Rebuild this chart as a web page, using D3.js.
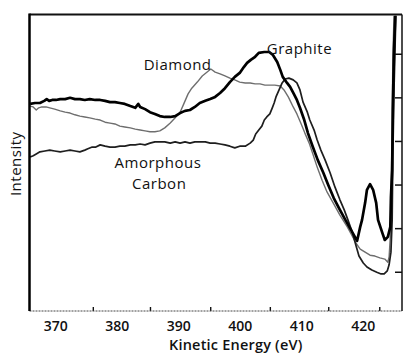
<!DOCTYPE html>
<html>
<head>
<meta charset="utf-8">
<script src="https://cdn.jsdelivr.net/npm/d3@7"></script>
<style>
  html, body { margin: 0; padding: 0; background: #fff; }
  svg { display: block; }
  text { font-family: "Open Sans", "Noto Sans", sans-serif; fill: #111; }
</style>
</head>
<body>
<svg id="chart" width="404" height="354"></svg>
<script>
// Carbon KVV Auger spectra: [kinetic energy (eV), intensity (a.u.)]
const graphite = [
  [365.9,4.85],[366.7,4.87],[367.5,4.87],[368.2,4.92],[368.6,4.96],[369.0,4.92],[369.5,4.94],
  [370.1,4.94],[370.8,4.96],[371.6,4.96],[372.4,4.99],[373.2,4.96],[374.0,4.96],[374.8,4.94],
  [375.6,4.96],[376.5,4.94],[377.3,4.94],[378.1,4.92],[378.9,4.89],[379.7,4.89],[380.5,4.87],
  [381.3,4.85],[382.2,4.80],[383.0,4.76],[383.5,4.85],[383.8,4.78],[384.6,4.73],[385.4,4.66],
  [386.2,4.62],[387.0,4.57],[387.8,4.55],[388.7,4.55],[389.5,4.57],[390.3,4.64],[391.1,4.69],
  [391.9,4.71],[392.7,4.78],[393.5,4.87],[394.4,4.92],[395.2,4.96],[396.0,5.01],[396.8,5.10],
  [397.6,5.21],[398.4,5.35],[399.2,5.47],[400.0,5.56],[400.7,5.70],[401.2,5.79],[401.8,5.86],
  [402.5,5.93],[403.1,6.02],[404.0,6.04],[404.8,6.04],[405.4,5.97],[406.1,5.81],[406.6,5.63],
  [407.0,5.47],[407.7,5.33],[408.2,5.24],[408.8,5.08],[409.3,4.94],[409.8,4.76],[410.5,4.48],
  [411.1,4.18],[411.9,3.86],[412.7,3.56],[413.6,3.27],[414.4,2.99],[415.3,2.69],[416.3,2.42],
  [417.3,2.16],[418.1,1.96],[419.1,1.71],[419.6,2.03],[419.9,2.19],[420.4,2.58],[420.7,2.88],
  [421.2,3.01],[421.7,2.88],[422.2,2.58],[422.5,2.19],[423.2,1.89],[423.6,1.73],[424.1,1.80],
  [424.5,2.03],[424.6,2.71],[424.8,3.33],[424.9,4.71],[425.1,6.09],[425.3,6.87]
];

const diamond = [
  [365.9,4.80],[366.4,4.78],[366.9,4.71],[367.3,4.76],[367.8,4.78],[368.5,4.78],[369.1,4.76],
  [369.9,4.73],[370.8,4.69],[371.6,4.66],[372.4,4.64],[373.2,4.60],[374.0,4.57],[374.8,4.55],
  [375.6,4.53],[376.5,4.50],[377.3,4.48],[378.1,4.43],[378.9,4.41],[379.7,4.39],[380.5,4.34],
  [381.3,4.32],[382.2,4.30],[383.0,4.27],[383.8,4.25],[384.6,4.23],[385.4,4.21],[386.2,4.21],
  [387.0,4.23],[387.8,4.30],[388.7,4.41],[389.5,4.53],[390.3,4.66],[390.9,4.85],[391.6,5.08],
  [392.2,5.21],[393.1,5.35],[393.9,5.49],[394.7,5.58],[395.3,5.65],[396.0,5.58],[396.8,5.54],
  [397.6,5.49],[398.4,5.44],[399.2,5.40],[400.0,5.35],[400.9,5.33],[401.7,5.33],[402.5,5.31],
  [403.3,5.31],[404.1,5.28],[404.9,5.28],[405.7,5.28],[406.6,5.26],[407.2,5.17],[407.9,5.01],
  [408.7,4.78],[409.3,4.62],[410.0,4.39],[410.6,4.18],[411.3,3.95],[411.9,3.70],[412.6,3.40],
  [413.4,3.10],[414.2,2.83],[415.2,2.58],[416.3,2.30],[417.5,2.03],[418.3,1.82],[418.9,1.66],
  [419.6,1.52],[420.4,1.45],[421.2,1.38],[422.0,1.36],[422.8,1.32],[423.6,1.29],[424.1,1.22],
  [424.3,1.34],[424.5,1.80],[424.6,2.65],[424.8,4.25],[424.9,5.86],[425.1,6.87]
];

const amorphous = [
  [365.9,3.63],[366.4,3.66],[366.9,3.70],[367.5,3.75],[368.3,3.77],[369.1,3.79],[369.9,3.77],
  [370.8,3.75],[371.6,3.77],[372.4,3.79],[373.2,3.77],[374.0,3.75],[374.8,3.79],[375.3,3.82],
  [376.0,3.86],[376.6,3.86],[377.3,3.91],[378.1,3.88],[378.9,3.86],[379.7,3.86],[380.5,3.88],
  [381.3,3.88],[382.2,3.91],[383.0,3.91],[383.8,3.93],[384.6,3.91],[385.4,3.95],[386.2,3.98],
  [387.0,3.98],[387.8,3.98],[388.7,3.95],[389.5,3.98],[390.3,3.95],[391.1,3.98],[391.9,3.95],
  [392.7,3.98],[393.5,3.98],[394.4,3.98],[395.2,3.95],[396.0,3.95],[396.8,3.93],[397.6,3.91],
  [398.4,3.88],[399.2,3.84],[400.0,3.88],[400.9,3.88],[401.7,3.95],[402.2,4.02],[402.6,4.16],
  [403.1,4.25],[403.6,4.34],[404.0,4.48],[404.4,4.55],[404.9,4.62],[405.3,4.76],[405.6,4.87],
  [405.9,5.01],[406.4,5.17],[406.9,5.33],[407.4,5.42],[408.0,5.44],[408.7,5.40],[409.3,5.33],
  [409.8,5.17],[410.3,4.89],[411.0,4.66],[411.4,4.48],[412.1,4.25],[412.6,4.02],[413.2,3.79],
  [413.9,3.56],[414.7,3.27],[415.5,2.94],[416.3,2.65],[417.0,2.42],[417.6,2.19],[418.3,1.91],
  [418.9,1.61],[419.4,1.36],[420.1,1.20],[420.7,1.11],[421.5,1.04],[422.3,0.99],[423.0,0.95],
  [423.5,0.95],[424.0,1.02],[424.3,1.16],[424.6,1.45],[424.8,2.19],[424.9,3.56],[425.1,5.17],
  [425.3,6.32],[425.4,6.87]
];

// Axis ticks
const xTickLabels = [370, 380, 390, 400, 410, 420];
const xTickMarks = [376.1, 385.4, 395.2, 404.9, 414.4, 422.7];
const yTickMarks = [1, 2, 3, 4, 5, 6];

// Curve labels: text, energy, intensity, anchor
const curveLabels = [
  { text: "Diamond",   e: 389.9, i: 5.63, anchor: "middle" },
  { text: "Graphite",  e: 404.4, i: 5.99, anchor: "start" },
  { text: "Amorphous", e: 386.7, i: 3.38, anchor: "middle" },
  { text: "Carbon",    e: 386.9, i: 2.90, anchor: "middle" }
];

const svg = d3.select("#chart");
const plot = { left: 29.5, right: 402, top: 14.5, bottom: 311 };

const x = d3.scaleLinear().domain([365.8, 426.4]).range([plot.left, plot.right]);
const y = d3.scaleLinear().domain([0.1, 6.9]).range([plot.bottom, plot.top]);

const line = d3.line().x(d => x(d[0])).y(d => y(d[1]));

// Spectra
svg.append("path").datum(diamond).attr("d", line)
  .attr("fill", "none").attr("stroke", "#6e6e6e").attr("stroke-width", 1.4)
  .attr("stroke-linejoin", "round");
svg.append("path").datum(amorphous).attr("d", line)
  .attr("fill", "none").attr("stroke", "#1e1e1e").attr("stroke-width", 1.7)
  .attr("stroke-linejoin", "round");
svg.append("path").datum(graphite).attr("d", line)
  .attr("fill", "none").attr("stroke", "#000").attr("stroke-width", 2.7)
  .attr("stroke-linejoin", "round");

// Bottom axis: labels without marks, marks without labels
const xLabelAxis = d3.axisBottom(x).tickValues(xTickLabels).tickSize(0).tickPadding(10)
  .tickFormat(d3.format("d"));
const gxl = svg.append("g").attr("transform", `translate(0,${plot.bottom})`).call(xLabelAxis);
gxl.select(".domain").remove();
gxl.selectAll("text").attr("font-size", 14).attr("fill", "#111").attr("font-weight", 600)
  .style("font-family", '"Open Sans", sans-serif');

const xMarkAxis = d3.axisTop(x).tickValues(xTickMarks).tickSize(4).tickFormat("");
const gxm = svg.append("g").attr("transform", `translate(0,${plot.bottom})`).call(xMarkAxis);
gxm.select(".domain").remove();
gxm.selectAll("line").attr("stroke", "#111").attr("stroke-width", 1.4);

// Right axis: inward marks
const yAxis = d3.axisLeft(y).tickValues(yTickMarks).tickSize(7).tickFormat("");
const gy = svg.append("g").attr("transform", `translate(${plot.right},0)`).call(yAxis);
gy.select(".domain").remove();
gy.selectAll("line").attr("stroke", "#111").attr("stroke-width", 1.5);

// Frame
svg.append("line").attr("x1", plot.left).attr("x2", plot.right)
  .attr("y1", plot.bottom).attr("y2", plot.bottom)
  .attr("stroke", "#444").attr("stroke-width", 1).attr("stroke-dasharray", "2,1");
svg.append("line").attr("x1", plot.left).attr("x2", plot.right)
  .attr("y1", plot.top).attr("y2", plot.top)
  .attr("stroke", "#111").attr("stroke-width", 2);
svg.append("line").attr("x1", plot.right).attr("x2", plot.right)
  .attr("y1", plot.top).attr("y2", plot.bottom)
  .attr("stroke", "#111").attr("stroke-width", 1.5);
svg.append("line").attr("x1", plot.left).attr("x2", plot.left)
  .attr("y1", plot.top - 1).attr("y2", plot.bottom)
  .attr("stroke", "#000").attr("stroke-width", 2.5);

// Curve labels
svg.selectAll("text.curve-label").data(curveLabels).join("text")
  .attr("class", "curve-label")
  .attr("x", d => x(d.e)).attr("y", d => y(d.i))
  .attr("text-anchor", d => d.anchor)
  .attr("font-size", 15).attr("font-weight", 500).attr("letter-spacing", 0.5)
  .text(d => d.text);

// Axis titles
svg.append("text")
  .attr("x", (plot.left + plot.right) / 2 + 20).attr("y", 350)
  .attr("text-anchor", "middle").attr("font-size", 14.5).attr("font-weight", 600)
  .attr("letter-spacing", 0.2)
  .text("Kinetic Energy (eV)");
svg.append("text")
  .attr("transform", `translate(21,${(plot.top + plot.bottom) / 2 + 1}) rotate(-90)`)
  .attr("text-anchor", "middle").attr("font-size", 15).attr("font-weight", 500)
  .attr("letter-spacing", 0.5)
  .text("Intensity");
</script>
</body>
</html>
